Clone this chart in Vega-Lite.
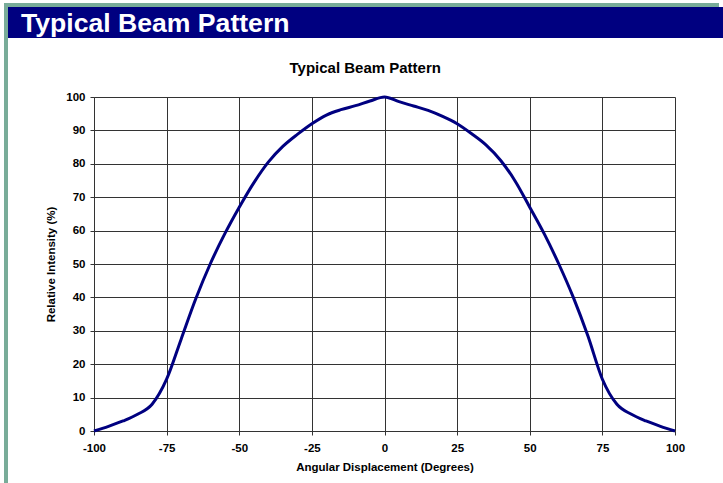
{
  "$schema": "https://vega.github.io/schema/vega-lite/v6.json",
  "background": "white",
  "padding": {"left": 4, "top": 3, "right": 0, "bottom": 0},
  "config": {
    "view": {"stroke": null},
    "font": "Liberation Sans",
    "concat": {"spacing": 0}
  },
  "hconcat": [
    {
      "width": 4,
      "height": 480,
      "view": {"fill": "#79AC99", "stroke": null},
      "data": {"values": []},
      "mark": "point"
    },
    {
      "spacing": 0,
      "vconcat": [
        {
          "width": 711,
          "height": 4,
          "view": {"fill": "#79AC99", "stroke": null},
          "data": {"values": []},
          "mark": "point"
        },
        {
          "spacing": 23,
          "vconcat": [
            {
              "width": 715,
              "height": 31,
              "view": {"fill": "#000080", "stroke": null},
              "data": {"values": [{"t": "Typical Beam Pattern"}]},
              "mark": {
                "type": "text",
                "color": "white",
                "font": "Liberation Sans",
                "fontWeight": "bold",
                "fontSize": 26.6,
                "align": "left",
                "baseline": "alphabetic",
                "dx": -344.5,
                "dy": 9.5
              },
              "encoding": {"text": {"field": "t", "type": "nominal"}}
            },
            {
              "spacing": 0,
              "hconcat": [
                {
                  "width": 37,
                  "height": 10,
                  "data": {"values": []},
                  "mark": "point"
                },
                {
                  "width": 581,
                  "height": 334,
                  "title": {
                    "text": "Typical Beam Pattern",
                    "fontSize": 15,
                    "fontWeight": "bold",
                    "color": "black",
                    "frame": "bounds",
                    "anchor": "middle",
                    "baseline": "alphabetic",
                    "offset": 3
                  },
                  "data": {
                    "values": [
                      {"deg": -100, "val": 0},
                      {"deg": -95, "val": 1.4},
                      {"deg": -90, "val": 3},
                      {"deg": -85, "val": 5},
                      {"deg": -80, "val": 8},
                      {"deg": -75, "val": 15.5},
                      {"deg": -70, "val": 27.5},
                      {"deg": -65, "val": 39.5},
                      {"deg": -60, "val": 50},
                      {"deg": -55, "val": 59},
                      {"deg": -50, "val": 67},
                      {"deg": -45, "val": 74.3},
                      {"deg": -40, "val": 80.5},
                      {"deg": -35, "val": 85.2},
                      {"deg": -30, "val": 88.8},
                      {"deg": -25, "val": 92},
                      {"deg": -20, "val": 94.6},
                      {"deg": -15, "val": 96.2},
                      {"deg": -10, "val": 97.4},
                      {"deg": -5, "val": 98.8},
                      {"deg": 0, "val": 100},
                      {"deg": 5, "val": 98.6},
                      {"deg": 10, "val": 97.3},
                      {"deg": 15, "val": 96},
                      {"deg": 20, "val": 94.2},
                      {"deg": 25, "val": 92},
                      {"deg": 30, "val": 89},
                      {"deg": 35, "val": 85.6},
                      {"deg": 40, "val": 81},
                      {"deg": 45, "val": 74.8},
                      {"deg": 50, "val": 67},
                      {"deg": 55, "val": 59},
                      {"deg": 60, "val": 50},
                      {"deg": 65, "val": 40},
                      {"deg": 70, "val": 28.5},
                      {"deg": 75, "val": 15.5},
                      {"deg": 80, "val": 8},
                      {"deg": 85, "val": 5},
                      {"deg": 90, "val": 3},
                      {"deg": 95, "val": 1.4},
                      {"deg": 100, "val": 0}
                    ]
                  },
                  "mark": {
                    "type": "line",
                    "color": "#000080",
                    "strokeWidth": 3,
                    "interpolate": "monotone"
                  },
                  "encoding": {
                    "x": {
                      "field": "deg",
                      "type": "quantitative",
                      "scale": {"domain": [-100, 100], "nice": false, "zero": false},
                      "axis": {
                        "values": [-100, -75, -50, -25, 0, 25, 50, 75, 100],
                        "labelExpr": "'' + datum.value",
                        "title": "Angular Displacement (Degrees)",
                        "titleFontSize": 11.5,
                        "titleFontWeight": "bold",
                        "titleColor": "black",
                        "titlePadding": 8,
                        "labelFontSize": 11.5,
                        "labelFontWeight": "bold",
                        "labelColor": "black",
                        "labelPadding": 7,
                        "labelFlush": false,
                        "labelOverlap": false,
                        "tickSize": 4,
                        "tickColor": "#333",
                        "domainColor": "#333",
                        "grid": true,
                        "gridColor": "#333",
                        "gridOpacity": 1,
                        "gridWidth": 1
                      }
                    },
                    "y": {
                      "field": "val",
                      "type": "quantitative",
                      "scale": {"domain": [0, 100], "nice": false},
                      "axis": {
                        "values": [0, 10, 20, 30, 40, 50, 60, 70, 80, 90, 100],
                        "title": "Relative Intensity (%)",
                        "titleFontSize": 11.5,
                        "titleFontWeight": "bold",
                        "titleColor": "black",
                        "titlePadding": 9,
                        "labelFontSize": 11.5,
                        "labelFontWeight": "bold",
                        "labelColor": "black",
                        "labelPadding": 5,
                        "labelOverlap": false,
                        "tickSize": 4,
                        "tickColor": "#333",
                        "domainColor": "#333",
                        "grid": true,
                        "gridColor": "#333",
                        "gridOpacity": 1,
                        "gridWidth": 1
                      }
                    }
                  }
                }
              ]
            }
          ]
        }
      ]
    }
  ]
}
